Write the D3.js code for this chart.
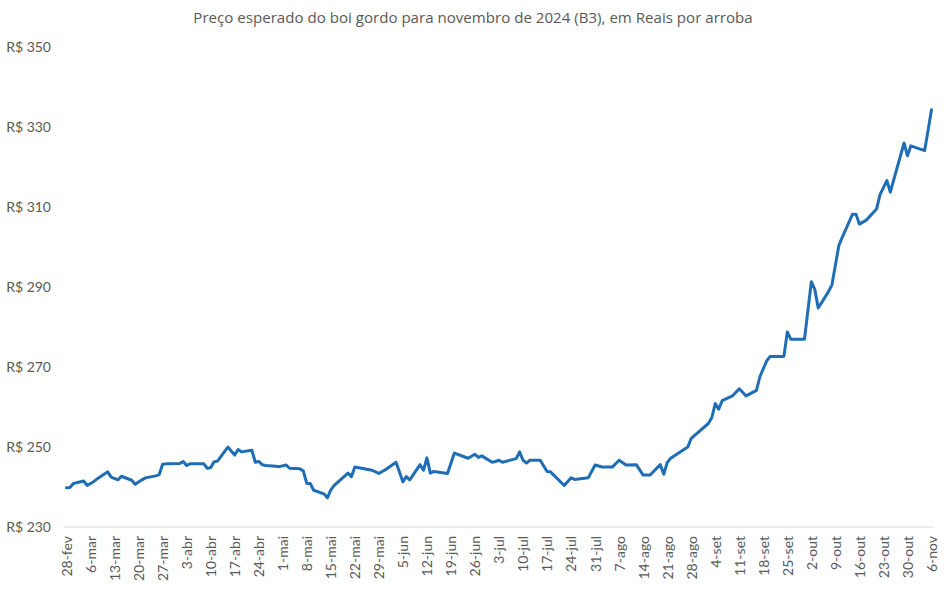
<!DOCTYPE html>
<html>
<head>
<meta charset="utf-8">
<script src="https://cdn.jsdelivr.net/npm/d3@7"></script>
<style>
  html, body { margin: 0; padding: 0; background: #fff; }
  svg { display: block; }
</style>
</head>
<body>
<svg id="chart" width="947" height="589"></svg>
<script>
const titleText = "Preço esperado do boi gordo para novembro de 2024 (B3), em Reais por arroba";

const dates = [
  "2024-02-28","2024-02-29","2024-03-01","2024-03-04","2024-03-05","2024-03-07","2024-03-08","2024-03-11",
  "2024-03-12","2024-03-14","2024-03-15","2024-03-18","2024-03-19","2024-03-21","2024-03-22","2024-03-25",
  "2024-03-26","2024-03-27","2024-03-28","2024-04-01","2024-04-02","2024-04-03","2024-04-04","2024-04-05",
  "2024-04-08","2024-04-09","2024-04-10","2024-04-11","2024-04-12","2024-04-15","2024-04-17","2024-04-18",
  "2024-04-19","2024-04-22","2024-04-23","2024-04-24","2024-04-25","2024-04-26","2024-04-29","2024-04-30",
  "2024-05-02","2024-05-03","2024-05-06","2024-05-07","2024-05-08","2024-05-09","2024-05-10","2024-05-13",
  "2024-05-14","2024-05-15","2024-05-16","2024-05-20","2024-05-21","2024-05-22","2024-05-27","2024-05-29",
  "2024-05-31","2024-06-03","2024-06-05","2024-06-06","2024-06-07","2024-06-10","2024-06-11","2024-06-12",
  "2024-06-13","2024-06-14","2024-06-18","2024-06-20","2024-06-24","2024-06-26","2024-06-27","2024-06-28",
  "2024-07-01","2024-07-02","2024-07-03","2024-07-04","2024-07-08","2024-07-09","2024-07-10","2024-07-11",
  "2024-07-12","2024-07-15","2024-07-17","2024-07-18","2024-07-22","2024-07-24","2024-07-25","2024-07-29",
  "2024-07-31","2024-08-02","2024-08-05","2024-08-07","2024-08-09","2024-08-12","2024-08-14","2024-08-16",
  "2024-08-19","2024-08-20","2024-08-21","2024-08-22","2024-08-27","2024-08-28","2024-09-02","2024-09-03",
  "2024-09-04","2024-09-05","2024-09-06","2024-09-09","2024-09-11","2024-09-13","2024-09-16","2024-09-17",
  "2024-09-19","2024-09-20","2024-09-24","2024-09-25","2024-09-26","2024-09-30","2024-10-02","2024-10-03",
  "2024-10-04","2024-10-07","2024-10-08","2024-10-10","2024-10-11","2024-10-14","2024-10-15","2024-10-16",
  "2024-10-18","2024-10-21","2024-10-22","2024-10-24","2024-10-25","2024-10-29","2024-10-30","2024-10-31",
  "2024-11-04","2024-11-05","2024-11-06"
];

const prices = [
  239.8,239.9,240.9,241.5,240.4,241.4,242.1,243.8,
  242.5,241.8,242.7,241.7,240.7,241.8,242.3,242.8,
  243.1,245.7,245.8,245.9,246.4,245.4,245.8,245.8,
  245.8,244.7,244.8,246.3,246.5,250.0,248.0,249.4,
  248.8,249.2,246.2,246.4,245.6,245.4,245.2,245.1,
  245.5,244.7,244.6,244.0,240.9,240.9,239.2,238.3,
  237.3,239.3,240.4,243.5,242.6,245.0,244.2,243.4,
  244.4,246.2,241.3,242.6,241.8,245.6,244.2,247.3,
  243.5,243.9,243.4,248.5,247.2,248.2,247.4,247.8,
  246.2,246.4,246.7,246.2,247.1,248.8,246.7,246.0,
  246.7,246.7,243.9,243.8,240.4,242.3,241.9,242.3,
  245.5,245.0,245.0,246.7,245.5,245.6,243.0,243.0,
  245.6,243.2,246.1,247.2,250.0,252.2,255.9,257.4,
  260.9,259.5,261.6,262.8,264.6,262.8,264.2,267.6,
  271.6,272.7,272.7,278.8,277.0,277.0,291.4,289.5,
  284.8,288.9,290.6,300.4,302.5,308.3,308.3,305.8,
  306.8,309.6,313.2,316.7,313.8,326.1,322.9,325.4,
  324.2,329.2,334.4
];

const tickLabels = [
  "28-fev","6-mar","13-mar","20-mar","27-mar","3-abr","10-abr","17-abr","24-abr",
  "1-mai","8-mai","15-mai","22-mai","29-mai","5-jun","12-jun","19-jun","26-jun",
  "3-jul","10-jul","17-jul","24-jul","31-jul","7-ago","14-ago","21-ago","28-ago",
  "4-set","11-set","18-set","25-set","2-out","9-out","16-out","23-out","30-out","6-nov"
];
const yTicks = [230, 250, 270, 290, 310, 330, 350];

const parse = d3.utcParse("%Y-%m-%d");
const data = dates.map((d, i) => ({ date: parse(d), value: prices[i] }));
const startDate = parse("2024-02-28");
const endDate = parse("2024-11-06");
const tickDates = tickLabels.map((_, i) => d3.utcDay.offset(startDate, i * 7));

const svg = d3.select("#chart");
const font = "Lato, 'Open Sans', sans-serif";
const textColor = "#595959";

const x = d3.scaleUtc().domain([startDate, endDate]).range([66.5, 931.5]);
const y = d3.scaleLinear().domain([230, 350]).range([527, 47.5]);

// Title
const title = svg.append("text")
  .attr("x", 473).attr("y", 23)
  .attr("text-anchor", "middle")
  .attr("font-family", "'Open Sans', sans-serif")
  .attr("font-size", 14)
  .attr("fill", textColor)
  .text(titleText);
const tw = title.node().getComputedTextLength();
title.attr("font-size", 14 * 560 / tw);

// Y axis (labels only)
const yAxis = d3.axisLeft(y).tickValues(yTicks).tickSize(0).tickPadding(0)
  .tickFormat(d => "R$ " + d);
const gy = svg.append("g").attr("transform", "translate(51,0)").call(yAxis);
gy.select(".domain").remove();
gy.selectAll("text")
  .attr("font-family", font).attr("font-size", 14).attr("fill", textColor);

// X axis
const xAxis = d3.axisBottom(x).tickValues(tickDates).tickSize(0)
  .tickFormat((d, i) => tickLabels[i]);
const gx = svg.append("g").attr("transform", `translate(0,${y(230)})`).call(xAxis);
gx.select(".domain")
  .attr("d", `M63.5,0H934`)
  .attr("stroke", "#d9d9d9").attr("stroke-width", 1.2);
gx.selectAll("text")
  .attr("font-family", font).attr("font-size", 14).attr("fill", textColor)
  .attr("text-anchor", "end")
  .attr("transform", "rotate(-90)")
  .attr("x", -9).attr("y", 0).attr("dy", "0.35em");

// Line
const line = d3.line().x(d => x(d.date)).y(d => y(d.value));
svg.append("path")
  .datum(data)
  .attr("d", line)
  .attr("fill", "none")
  .attr("stroke", "#1f6db4")
  .attr("stroke-width", 3)
  .attr("stroke-linejoin", "round")
  .attr("stroke-linecap", "round");
</script>
</body>
</html>
